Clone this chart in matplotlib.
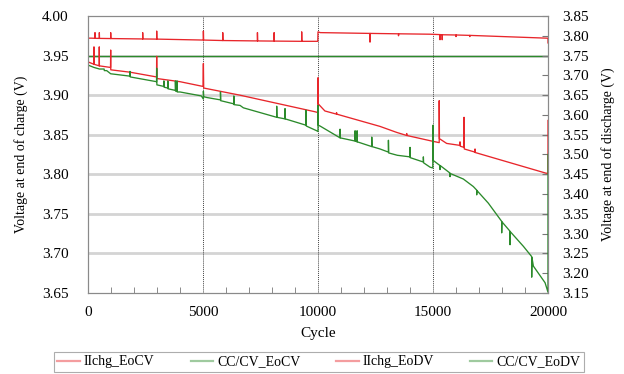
import matplotlib
matplotlib.use("Agg")
import matplotlib.pyplot as plt
from matplotlib.ticker import MultipleLocator, FormatStrFormatter

plt.rcParams['font.family'] = ['Liberation Serif', 'DejaVu Serif']

# ---- data (cycle, voltage) ----
# left axis: end-of-charge voltage
ilchg_eocv = [(0, 3.980), (0, 3.972), (150, 3.9720), (304, 3.9718), (304, 3.979), (310, 3.9718),
              (493, 3.9717), (493, 3.979), (500, 3.9717), (986, 3.9715), (986, 3.979), (993, 3.9715),
              (2377, 3.971), (2377, 3.979), (2384, 3.971), (2986, 3.9708), (2986, 3.981), (2993, 3.9708),
              (5017, 3.9696), (5017, 3.981), (5024, 3.9696), (5858, 3.969), (5858, 3.979), (5865, 3.969),
              (7367, 3.9685), (7367, 3.979), (7374, 3.9685), (8092, 3.9683), (8092, 3.979), (8099, 3.9683),
              (9290, 3.968), (9290, 3.980), (9297, 3.968), (9990, 3.968), (10000, 3.980), (10100, 3.979),
              (12261, 3.978), (12261, 3.967), (12268, 3.978), (13500, 3.9775), (13500, 3.975), (13507, 3.9775),
              (14870, 3.977), (15305, 3.9765), (15305, 3.970), (15312, 3.9765), (15400, 3.9763),
              (15400, 3.970), (15407, 3.9763), (16000, 3.976), (16000, 3.974), (16007, 3.976),
              (16600, 3.9755), (16600, 3.974), (16607, 3.9755), (19945, 3.972), (20000, 3.972), (20000, 3.966)]

ccv_eocv = [(0, 3.950), (20000, 3.950)]

# right axis: end-of-discharge voltage
ilchg_eodv = [(0, 3.776), (0, 3.734), (260, 3.728), (260, 3.772), (265, 3.728), (490, 3.724),
              (490, 3.772), (495, 3.724), (980, 3.720), (986, 3.764), (990, 3.714), (1827, 3.708),
              (2980, 3.696), (2986, 3.748), (2995, 3.692), (4000, 3.684), (5000, 3.672), (5017, 3.730),
              (5030, 3.668), (6600, 3.650), (9870, 3.608), (9995, 3.606), (10000, 3.694), (10010, 3.628),
              (10300, 3.610), (10805, 3.602), (10805, 3.606), (10815, 3.602), (12696, 3.571),
              (13413, 3.556), (13856, 3.548), (13856, 3.553), (13866, 3.548), (14943, 3.534),
              (15270, 3.530), (15270, 3.636), (15280, 3.540), (15594, 3.528), (16174, 3.523),
              (16174, 3.532), (16184, 3.521), (16350, 3.518), (16350, 3.594), (16360, 3.514),
              (16827, 3.506), (16827, 3.514), (16837, 3.505), (19900, 3.453), (20000, 3.452), (20000, 3.586)]

ccv_eodv = [(0, 3.726), (260, 3.720), (500, 3.716), (700, 3.716), (710, 3.712), (812, 3.712),
            (986, 3.704), (1827, 3.698), (1827, 3.710), (1837, 3.696), (2980, 3.684), (2987, 3.718),
            (2995, 3.676), (3300, 3.672), (3300, 3.686), (3310, 3.670), (3470, 3.668), (3470, 3.686),
            (3480, 3.666), (3800, 3.662), (3800, 3.686), (3810, 3.660), (3870, 3.660), (3870, 3.686),
            (3880, 3.658), (4002, 3.658), (4930, 3.648), (5017, 3.640), (5017, 3.660), (5030, 3.646),
            (5170, 3.644), (5760, 3.638), (5760, 3.658), (5770, 3.636), (6340, 3.628), (6340, 3.648),
            (6350, 3.626), (6612, 3.624), (6754, 3.618), (8204, 3.594), (8204, 3.622), (8214, 3.594),
            (8566, 3.590), (8566, 3.616), (8576, 3.590), (9479, 3.574), (9479, 3.612), (9489, 3.572),
            (9943, 3.560), (10000, 3.558), (10000, 3.624), (10010, 3.574), (10088, 3.572),
            (10960, 3.542), (10960, 3.564), (10970, 3.542), (11612, 3.534), (11612, 3.560),
            (11622, 3.534), (11700, 3.532), (11700, 3.560), (11710, 3.532), (12337, 3.520),
            (12337, 3.544), (12347, 3.520), (12696, 3.514), (13062, 3.506), (13062, 3.536),
            (13072, 3.504), (13450, 3.498), (14001, 3.494), (14001, 3.518), (14011, 3.492),
            (14581, 3.481), (14581, 3.494), (14591, 3.479), (14871, 3.468), (14990, 3.466),
            (15000, 3.574), (15010, 3.485), (15305, 3.472), (15305, 3.462), (15315, 3.472),
            (15740, 3.453), (15740, 3.444), (15750, 3.452), (16320, 3.438), (16754, 3.419),
            (16900, 3.410), (16900, 3.398), (16910, 3.409), (17406, 3.377), (17986, 3.331),
            (17986, 3.302), (17996, 3.330), (18350, 3.306), (18350, 3.272), (18360, 3.305),
            (18929, 3.268), (19291, 3.242), (19291, 3.190), (19301, 3.240), (19364, 3.218),
            (19872, 3.176), (20000, 3.152), (20000, 3.500)]

labels = ["IIchg_EoCV", "CC/CV_EoCV", "IIchg_EoDV", "CC/CV_EoDV"]
left_ticks = [3.65, 3.70, 3.75, 3.80, 3.85, 3.90, 3.95, 4.00]
right_range = (3.15, 3.85)
x_major = [0, 5000, 10000, 15000, 20000]

RED = "#e8262b"
GREEN = "#2b8a2b"

def xy(pairs):
    return [p[0] for p in pairs], [p[1] for p in pairs]

fig = plt.figure(figsize=(6.24, 3.74), dpi=100)
ax = fig.add_axes([88/624, 1-293/374, 460/624, 277/374])
ax2 = ax.twinx()

for y in left_ticks[1:-1]:
    ax.axhline(y, color="#d4d4d4", lw=2.0, zorder=0)
for x in x_major[1:-1]:
    ax.axvline(x, color="#444444", lw=0.7, ls=(0, (1, 1)), zorder=0.5)

l1, = ax.plot(*xy(ilchg_eocv), color=RED, lw=0.95, label=labels[0])
l2, = ax.plot(*xy(ccv_eocv), color=GREEN, lw=0.95, label=labels[1])
l3, = ax2.plot(*xy(ilchg_eodv), color=RED, lw=0.95, label=labels[2])
l4, = ax2.plot(*xy(ccv_eodv), color=GREEN, lw=0.95, label=labels[3])

ax.set_xlim(0, 20000)
ax.set_ylim(left_ticks[0], left_ticks[-1])
ax2.set_ylim(*right_range)
ax.set_xticks(x_major)
ax.xaxis.set_minor_locator(MultipleLocator(1000))
ax.set_yticks(left_ticks)
ax.yaxis.set_major_formatter(FormatStrFormatter('%.2f'))
ax2.yaxis.set_major_locator(MultipleLocator(0.05))
ax2.yaxis.set_major_formatter(FormatStrFormatter('%.2f'))

ax.tick_params(axis='x', which='major', direction='in', length=0, pad=9, labelsize=11)
ax.tick_params(axis='x', which='minor', direction='in', length=4, color="#777777")
ax.tick_params(axis='y', direction='in', length=0, pad=14, labelsize=11)
ax2.tick_params(axis='y', direction='in', length=4, pad=10, labelsize=11, color="#777777")

for a in (ax, ax2):
    for s in a.spines.values():
        s.set_color("#8a8a8a")
        s.set_linewidth(0.8)

ax.set_xlabel("Cycle", fontsize=11, labelpad=6)
ax.set_ylabel("Voltage at end of charge (V)", fontsize=10, labelpad=10)
ax2.set_ylabel("Voltage at end of discharge (V)", fontsize=10, labelpad=9)

leg = fig.legend(handles=[l1, l2, l3, l4], labels=labels, ncol=4, loc="center",
                 bbox_to_anchor=(319/624, 1-362/374), frameon=True, fancybox=False,
                 fontsize=10, handlelength=1.6, handletextpad=0.3, columnspacing=2.6,
                 borderpad=0.25, edgecolor="#999999")
leg.get_frame().set_linewidth(0.8)
for h in leg.get_lines():
    h.set_alpha(0.45)
    h.set_linewidth(1.6)

fig.savefig("out.png", dpi=100)
